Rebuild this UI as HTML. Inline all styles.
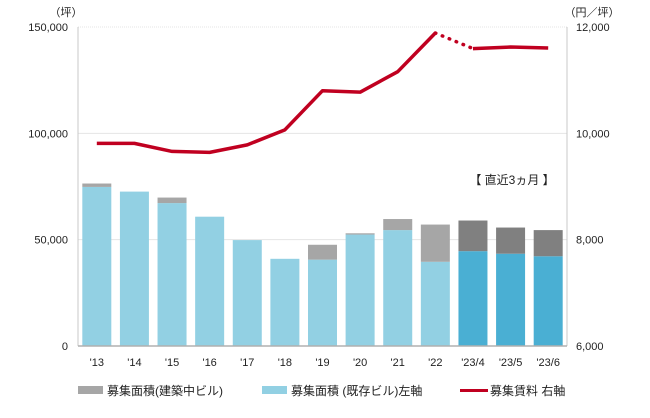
<!DOCTYPE html>
<html><head><meta charset="utf-8"><style>
body{margin:0;background:#fff;font-family:"Liberation Sans","Noto Sans CJK JP",sans-serif;}
svg text{font-family:"Liberation Sans","Noto Sans CJK JP",sans-serif;fill:#222;}
</style></head><body>
<svg id="chart" width="650" height="413" viewBox="0 0 650 413" xmlns="http://www.w3.org/2000/svg">
<g id="grid"></g><g id="bars"></g><g id="line"></g><g id="axes"></g>
<text x="66" y="16" font-size="11" text-anchor="middle">（坪）</text>
<text x="592" y="16" font-size="11" text-anchor="middle">（円／坪）</text>
<text x="512" y="184" font-size="12" text-anchor="middle">【 直近3ヵ月 】</text>
<g>
<rect x="78" y="386" width="25" height="8" fill="#a6a6a6"/>
<text x="107" y="395" font-size="12">募集面積(建築中ビル)</text>
<rect x="262" y="386" width="25" height="8" fill="#92d0e3"/>
<text x="291" y="395" font-size="12">募集面積 (既存ビル)左軸</text>
<rect x="460" y="389" width="28" height="3" fill="#c00020"/>
<text x="490" y="395" font-size="12">募集賃料 右軸</text>
</g>
</svg>
<script>
const categories=["'13","'14","'15","'16","'17","'18","'19","'20","'21","'22","'23/4","'23/5","'23/6"];
const existing=[74800,72600,67200,60800,49800,41000,40600,52400,54500,39600,44600,43400,42200];
const construction=[1600,0,2600,0,0,0,7000,600,5200,17500,14400,12300,12300];
const rent=[9811,9811,9660,9642,9783,10066,10802,10774,11160,11887,11594,11623,11604];
const leftTicks=[0,50000,100000,150000];
const rightTicks=[6000,8000,10000,12000];
const X0=78,X1=567,Y0=346,Y1=27;
const band=(X1-X0)/categories.length;
const yL=v=>Y0-(v/150000)*(Y0-Y1);
const yR=v=>Y0-((v-6000)/6000)*(Y0-Y1);
const xC=i=>X0+band*(i+0.5);
const NS="http://www.w3.org/2000/svg";
function mk(tag,attrs,parent){const e=document.createElementNS(NS,tag);for(const k in attrs)e.setAttribute(k,attrs[k]);document.getElementById(parent).appendChild(e);return e;}
leftTicks.forEach((t,i)=>{
 if(t>0){const g=mk('line',{x1:X0,x2:X1,y1:yL(t),y2:yL(t),stroke:'#e4e4e4','stroke-width':1,'stroke-dasharray':i==3?'1,1':''},'grid');
 
 }
 const tx=mk('text',{x:X0-10,y:yL(t)+4,'font-size':11,'text-anchor':'end'},'axes');tx.textContent=t.toLocaleString('en-US');
 
 
});
rightTicks.forEach(t=>{
 const tx=mk('text',{x:X1+9,y:yR(t)+4,'font-size':11,'text-anchor':'start'},'axes');tx.textContent=t.toLocaleString('en-US');
 
 
});
categories.forEach((c,i)=>{
 const recent=i>=10;const bw=29;const x=xC(i)-bw/2;
 const e=mk('rect',{x:x,y:yL(existing[i]),width:bw,height:Y0-yL(existing[i]),fill:recent?'#4aafd3':'#92d0e3'},'bars');
 
 
 if(construction[i]>0){const top=existing[i]+construction[i];
 const b=mk('rect',{x:x,y:yL(top),width:bw,height:yL(existing[i])-yL(top),fill:recent?'#808080':'#a6a6a6'},'bars');
 
 }
 const tx=mk('text',{x:xC(i),y:366,'font-size':11,'text-anchor':'middle'},'axes');tx.textContent=c;
 
 
});
const a1=mk('line',{x1:X0,x2:X0,y1:Y1,y2:Y0,stroke:'#c8c8c8'},'axes');


const a2=mk('line',{x1:X1,x2:X1,y1:Y1,y2:Y0,stroke:'#c8c8c8'},'axes');


const a3=mk('line',{x1:X0,x2:X1,y1:Y0,y2:Y0,stroke:'#b0b0b0','stroke-width':1.5},'axes');


let p1='';for(let i=0;i<=9;i++)p1+=(i?'L':'M')+xC(i)+','+yR(rent[i]);
const l1=mk('path',{d:p1,fill:'none',stroke:'#c00020','stroke-width':3.5,'stroke-linejoin':'round'},'line');


const l2=mk('path',{d:'M'+xC(9)+','+yR(rent[9])+'L'+xC(10)+','+yR(rent[10]),fill:'none',stroke:'#c00020','stroke-width':3.5,'stroke-dasharray':'0.5,7','stroke-linecap':'round'},'line');


let p3='';for(let i=10;i<13;i++)p3+=(i>10?'L':'M')+xC(i)+','+yR(rent[i]);
const l3=mk('path',{d:p3,fill:'none',stroke:'#c00020','stroke-width':3.5,'stroke-linejoin':'round'},'line');


</script>
</body></html>
